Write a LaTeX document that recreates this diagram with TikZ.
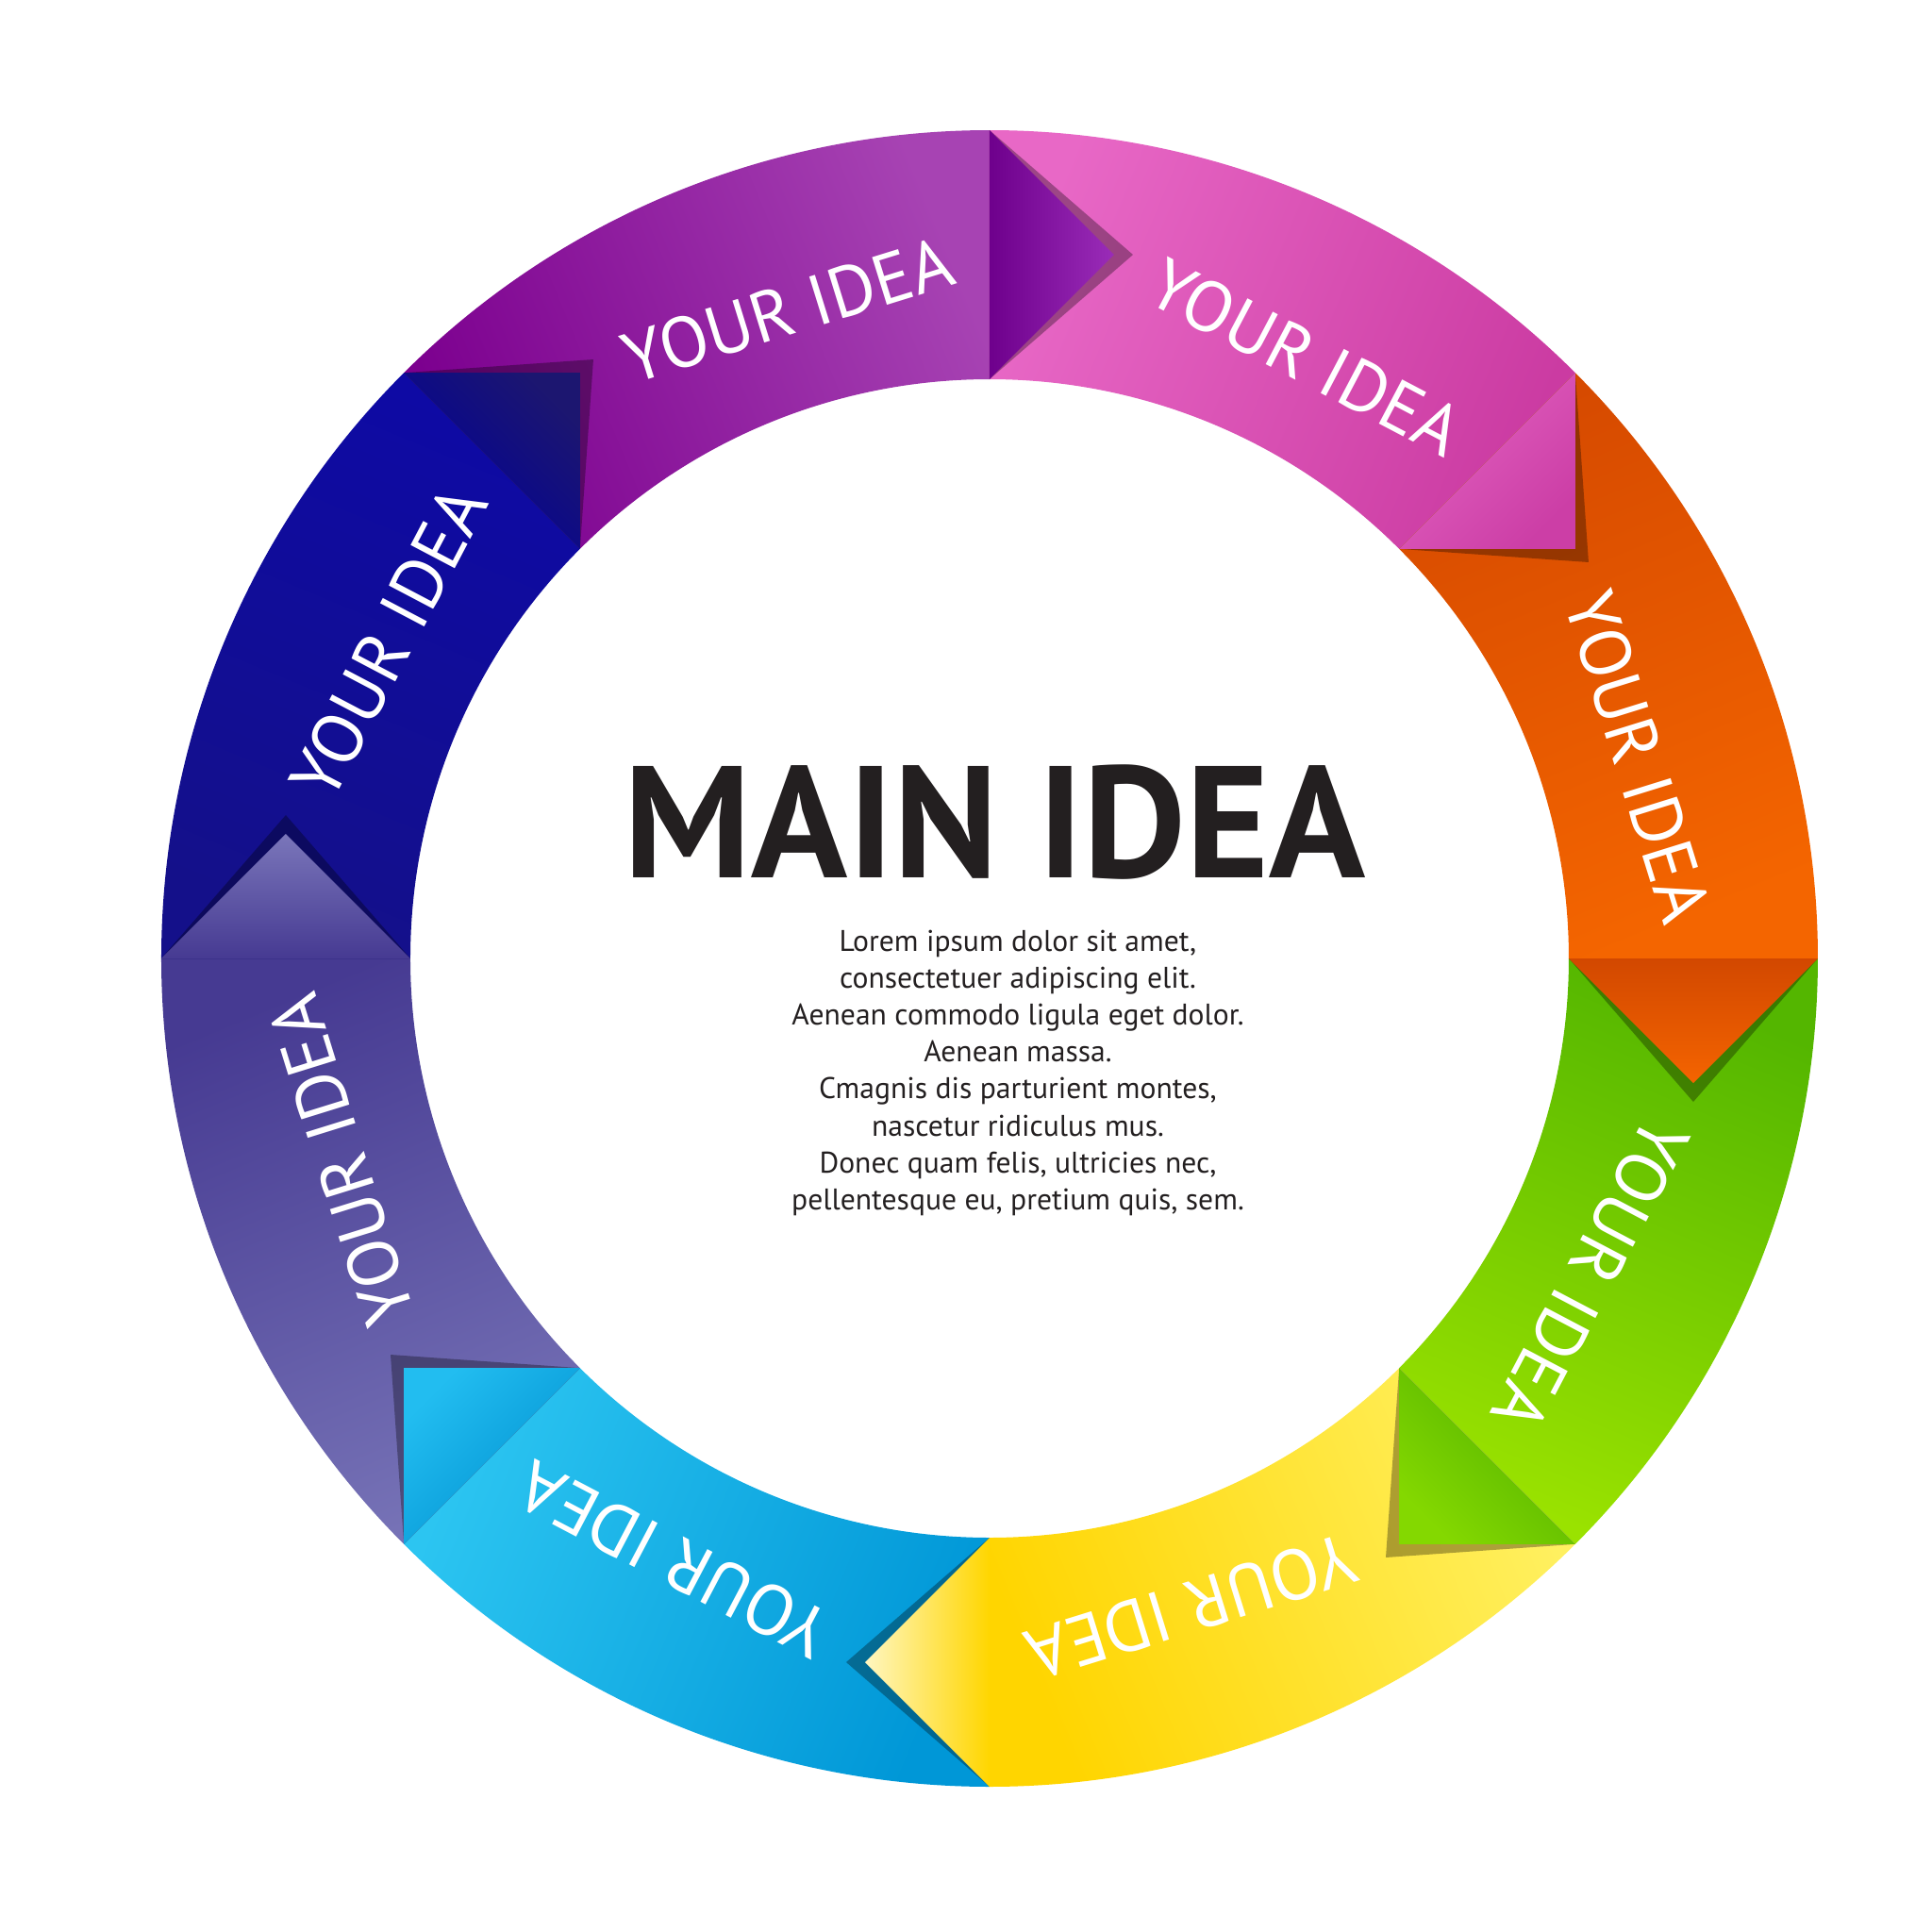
\documentclass[tikz,border=0pt]{standalone}
\usepackage{fontspec}
\setmainfont{PT Sans}
\usetikzlibrary{calc}
% ring colours: start side / end side of each band
\definecolor{purA}{HTML}{7C008F}\definecolor{purB}{HTML}{A743B3}
\definecolor{pinA}{HTML}{E868C6}\definecolor{pinB}{HTML}{CB3BA2}
\definecolor{oraA}{HTML}{D64A00}\definecolor{oraB}{HTML}{F46500}
\definecolor{greA}{HTML}{54B600}\definecolor{greB}{HTML}{9AE200}
\definecolor{yelA}{HTML}{FFF060}\definecolor{yelB}{HTML}{FFD500}
\definecolor{cyaA}{HTML}{0097D7}\definecolor{cyaB}{HTML}{2CC5F1}
\definecolor{vioA}{HTML}{7672B6}\definecolor{vioB}{HTML}{463A92}
\definecolor{bluA}{HTML}{14108A}\definecolor{bluB}{HTML}{0E0AA4}
% arrow tips: apex / base
\definecolor{purT}{HTML}{9A2CB8}\definecolor{purS}{HTML}{6E008C}
\definecolor{pinT}{HTML}{CC3EA6}\definecolor{pinS}{HTML}{E262C0}
\definecolor{oraT}{HTML}{F46400}\definecolor{oraS}{HTML}{D24800}
\definecolor{greT}{HTML}{84D800}\definecolor{greS}{HTML}{50B000}
\definecolor{yelT}{HTML}{FFF6C0}\definecolor{yelS}{HTML}{FFD600}
\definecolor{cyaT}{HTML}{22BDF0}\definecolor{cyaS}{HTML}{0090D0}
\definecolor{vioT}{HTML}{7A76BA}\definecolor{vioS}{HTML}{463A92}
\definecolor{bluT}{HTML}{1C1670}\definecolor{bluS}{HTML}{000099}
\definecolor{ink}{HTML}{231F20}

\begin{document}
\begin{tikzpicture}[idea/.style={text=white,inner sep=0pt,font=\fontsize{21.5}{25}\selectfont},
 tipshadow/.style={fill=black,opacity=.32}]
\useasboundingbox (-10.49,-10.32) rectangle (9.99,10.16);
\def\Ro{8.78}\def\Ri{6.14}\def\Rm{7.46}
% bands
\foreach \a/\c in {135/pur,90/pin,45/ora,0/gre,-45/yel,-90/cya,-135/vio,180/blu}{
  \pgfmathsetmacro\b{\a-45}\pgfmathsetmacro\m{\a-22.5}
  \shade[top color=\c A,bottom color=\c B,shading angle=\m]
    (\a:\Ro) arc[start angle=\a,end angle=\b,radius=\Ro]
    -- (\b:\Ri) arc[start angle=\b,end angle=\a,radius=\Ri] -- cycle;
}
% arrow tips
\foreach \a/\c in {135/pur,90/pin,45/ora,0/gre,-45/yel,-90/cya,-135/vio,180/blu}{
  \pgfmathsetmacro\b{\a-45}\pgfmathsetmacro\t{\a-135}\pgfmathsetmacro\s{\a-225}
  \fill[tipshadow] (\b:\Ro) -- ($(\b:\Rm)+(\t:1.52)$) -- (\b:\Ri) -- cycle;
  \shade[top color=\c T,bottom color=\c S,shading angle=\s]
    (\b:\Ro) -- ($(\b:\Rm)+(\t:1.32)$) -- (\b:\Ri) -- cycle;
}
% labels
\foreach \a [count=\k] in {135,90,45,0,-45,-90,-135,180}{
  \pgfmathsetmacro\p{\a-27.75}\pgfmathsetmacro\r{\a-117.75}
  \node[idea,rotate=\r] (idea\k) at (\p:7.2) {YOUR IDEA};
}
\node[text=ink,inner sep=0pt,anchor=base,font=\fontsize{48}{52}\selectfont\bfseries] (main) at (0.06,0.86) {MAIN IDEA};
\node[text=ink,inner sep=0pt,anchor=north,align=center,font=\fontsize{9}{11.15}\selectfont] (lorem) at (0.30,0.31)
  {Lorem ipsum dolor sit amet,\\consectetuer adipiscing elit.\\Aenean commodo ligula eget dolor.\\Aenean massa.\\Cmagnis dis parturient montes,\\nascetur ridiculus mus.\\Donec quam felis, ultricies nec,\\pellentesque eu, pretium quis, sem.};
\end{tikzpicture}
\end{document}
